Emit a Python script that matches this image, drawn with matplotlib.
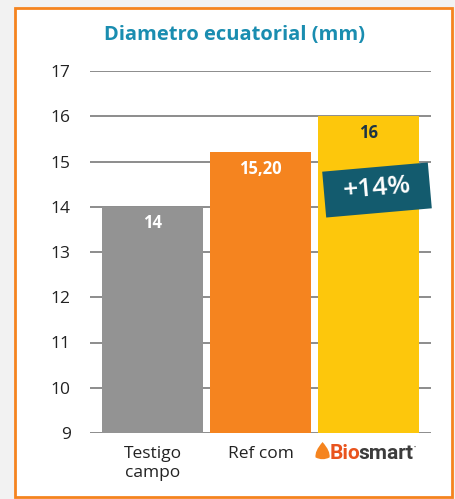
import matplotlib.pyplot as plt
from matplotlib.patches import Rectangle, PathPatch
from matplotlib.path import Path

plt.rcParams['font.family'] = ['Open Sans', 'DejaVu Sans']

# Data
categories = ['Testigo\ncampo', 'Ref com', 'Biosmart']
values = [14, 15.20, 16]
value_labels = ['14', '15,20', '16']
bar_colors = ['#939393', '#f5841f', '#fdc70c']
label_colors = ['white', 'white', '#1d3445']
yticks = [9, 10, 11, 12, 13, 14, 15, 16, 17]
ymin = 9

fig = plt.figure(figsize=(4.56, 4.99), dpi=100)
fig.patch.set_facecolor('#f2f2f2')

# Orange frame with white inside (pixel coords via inches at 100 dpi)
frame = Rectangle((0.15, 0.02), 4.37, 4.89, transform=fig.dpi_scale_trans,
                  facecolor='white', edgecolor='#f5841f', linewidth=2,
                  zorder=-5)
fig.patches.append(frame)

ax = fig.add_axes([90 / 456, 1 - 433 / 499, 341 / 456, 362 / 499])
ax.set_facecolor('none')

x = range(len(categories))
ax.bar(x, [v - ymin for v in values], bottom=ymin, width=0.935,
       color=bar_colors, zorder=2)

for i, v in enumerate(values):
    ax.text(i, v - 0.37, value_labels[i], ha='center', va='center',
            fontsize=12, fontweight='bold', color=label_colors[i], zorder=3)

ax.set_xlim(-0.58, 2.58)
ax.set_ylim(ymin, 17)
ax.set_yticks(yticks)
ax.yaxis.grid(True, color='#8c8c8c', linewidth=1.4, zorder=1)
ax.set_axisbelow(True)
for s in ax.spines.values():
    s.set_visible(False)
ax.tick_params(axis='y', length=0, pad=14, labelsize=12.5, labelcolor='#222222')
ax.tick_params(axis='x', length=0, pad=9, labelsize=12.5, labelcolor='#222222')
ax.set_xticks([0, 1])
ax.set_xticklabels(categories[:2], linespacing=1.3)

# Biosmart logo text
bio = ax.text(1.64, 8.55, 'Bio', ha='left', va='center', fontsize=15,
              fontweight='bold', color='#e9531d', clip_on=False,
              family=['Roboto', 'DejaVu Sans'])
fig.canvas.draw()
bb = bio.get_window_extent().transformed(ax.transData.inverted())
smart = ax.text(bb.x1 - 0.015, 8.55, 'smart', ha='left', va='center', fontsize=15,
                fontweight='bold', color='#3c3c3c', clip_on=False,
                family=['Roboto', 'DejaVu Sans'])
fig.canvas.draw()
bb2 = smart.get_window_extent().transformed(ax.transData.inverted())
ax.text(bb2.x1 + 0.0, 8.68, '\u2022', ha='left', va='center', fontsize=4,
        color='#3c3c3c', clip_on=False)
# drop
drop = Path([(1.575, 8.80), (1.50, 8.60), (1.51, 8.46), (1.575, 8.38),
             (1.64, 8.46), (1.65, 8.60), (1.575, 8.80)],
            [Path.MOVETO, Path.CURVE3, Path.CURVE3, Path.CURVE3,
             Path.CURVE3, Path.CURVE3, Path.CURVE3])
ax.add_patch(PathPatch(drop, facecolor='#f5841f', edgecolor='none',
                       clip_on=False))

# +14% badge, slightly rotated
badge = Rectangle((3.24, 4.99 - 2.13), 1.06, 0.46, angle=5,
                  rotation_point='center', transform=fig.dpi_scale_trans,
                  facecolor='#135b6e', edgecolor='none', zorder=5)
fig.patches.append(badge)
fig.text(377 / 456, 1 - 189 / 499, '+14%', ha='center', va='center',
         fontsize=19, fontweight='semibold', color='white', rotation=5, zorder=6)

fig.text(235 / 456, 1 - 35 / 499, 'Diametro ecuatorial (mm)', ha='center',
         va='center', fontsize=14.5, fontweight='bold', color='#1a8db0')

fig.savefig('out.png', dpi=100, facecolor=fig.get_facecolor())
